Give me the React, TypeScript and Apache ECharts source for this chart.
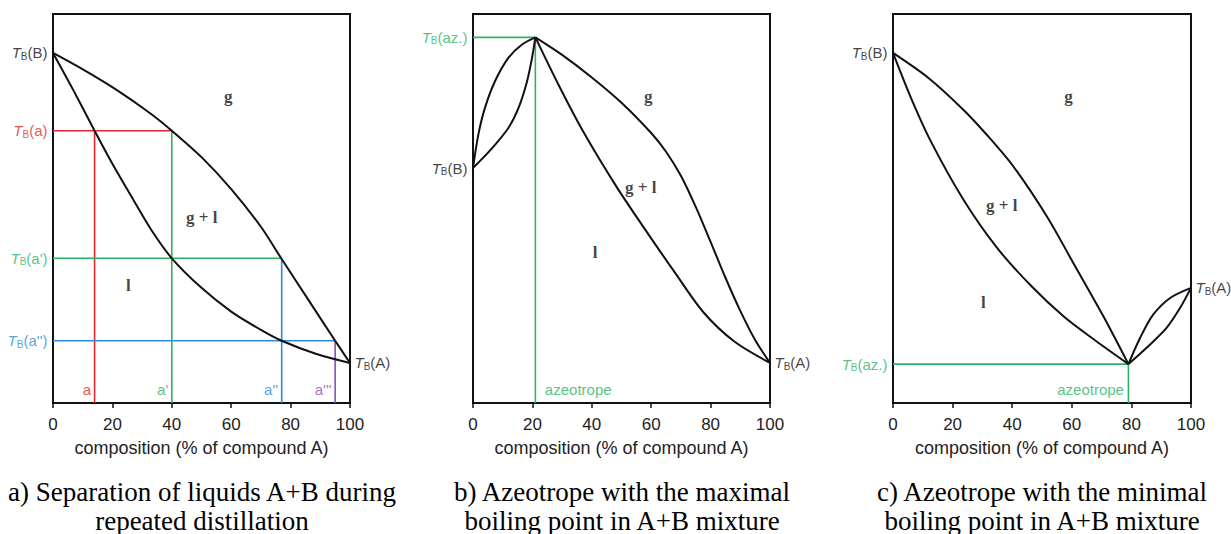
import React, { useEffect, useRef } from 'react';
import * as echarts from 'echarts';

type Pt = [number, number];

// ---------- shared texts ----------
const X_TICKS = [0, 20, 40, 60, 80, 100];
const AXIS_TITLE = 'composition (% of compound A)';
const CAPTIONS = [
  'a) Separation of liquids A+B during\nrepeated distillation',
  'b) Azeotrope with the maximal\nboiling point in A+B mixture',
  'c) Azeotrope with the minimal\nboiling point in A+B mixture',
];
const REGION_TEXT = ['g', 'g + l', 'l'];

// ---------- panel a ----------
const A_LIQUID: Pt[] = [[0, 90], [6.8, 80.5], [14, 70], [20, 61.5], [27, 52.3], [33, 44.6], [40, 37.2], [50, 29.6], [60, 23.5], [70, 18.8], [77, 16], [88.7, 12.6], [100, 10.3]];
const A_VAPOR: Pt[] = [[0, 90], [10.2, 85.7], [21.4, 80.5], [32.7, 74.5], [40, 70], [50, 63.2], [60, 55], [70, 45.3], [77, 37], [86, 26.5], [95, 16], [100, 10.3]];
const A_COMPOSITIONS = [14, 40, 77, 95]; // a, a', a'', a'''
const A_COMP_LABELS = ["a", "a'", "a''", "a'''"];
const A_TEMPS = [70, 37.2, 16]; // TB(a), TB(a'), TB(a'')
const A_TEMP_LABELS = ['(a)', "(a')", "(a'')"];
const A_TB_B = 90;
const A_TB_A = 10.3;
const A_REGIONS: Pt[] = [[59, 78.8], [50.1, 47.8], [25.4, 30.2]];

// ---------- panel b ----------
const B_AZEO: Pt = [21, 94];
const B_TB_B = 60.4;
const B_TB_A = 10.3;
const B_LENS_UPPER: Pt[] = [[0, 60.4], [1.8, 69], [4, 75.8], [7.4, 82.7], [11.9, 88.7], [16.4, 92.1], [21, 94]];
const B_LENS_LOWER: Pt[] = [[0, 60.4], [6.3, 65.4], [11.9, 70.7], [15.3, 75.8], [18.1, 82.4], [19.8, 88.4], [21, 94]];
const B_LIQUID: Pt[] = [[21, 94], [29, 81.5], [37.1, 69.8], [48.4, 55.5], [58.5, 44], [68, 33.5], [77.5, 23.4], [88, 15.8], [100, 10.3]];
const B_VAPOR: Pt[] = [[21, 94], [30, 89.5], [40, 83.7], [50, 77.2], [60, 69.4], [65, 64.6], [70, 58.4], [75, 50.4], [80, 41.4], [85, 32.2], [90, 23.7], [95, 16.2], [100, 10.3]];
const B_REGIONS: Pt[] = [[59, 78.8], [56.5, 55.5], [41.1, 38.8]];

// ---------- panel c ----------
const C_AZEO: Pt = [79, 10];
const C_TB_B = 90;
const C_TB_A = 29.6;
const C_LIQUID: Pt[] = [[0, 90], [6, 78.5], [12.4, 67.7], [23.6, 52.3], [35, 39.8], [46.5, 30], [57.2, 22.3], [68, 16], [79, 10]];
const C_VAPOR: Pt[] = [[0, 90], [12, 83.5], [23.6, 75.4], [32, 68.5], [40.4, 60.8], [51.6, 48], [60.5, 36], [70.6, 22.3], [79, 10]];
const C_LENS_UPPER: Pt[] = [[79, 10], [82.9, 16.7], [87.3, 22.7], [93, 27], [100, 29.6]];
const C_LENS_LOWER: Pt[] = [[79, 10], [86.2, 15], [91.8, 19.3], [96.3, 24.4], [100, 29.6]];
const C_REGIONS: Pt[] = [[58.9, 78.8], [36.5, 50.7], [30.3, 25.9]];

const BOTTOM_LABEL_Y = 3.4;

// ---------- styles ----------
const RED = '#e2272d';
const GREEN = '#2bb462';
const BLUE = '#2f8bd5';
const PURPLE = '#8d4dbd';
const BLACK = '#111';
const SANS = '"Liberation Sans", Arial, sans-serif';
const SERIF = '"Liberation Serif", "Times New Roman", serif';

const GRIDS = [
  { left: 53, top: 14, width: 297, height: 389 },
  { left: 473, top: 14, width: 297, height: 389 },
  { left: 893, top: 14, width: 298, height: 389 },
];
const CAPTION_X = [202, 622, 1042];

function tbLabel(suffix: string, color: string, position: string, distance = 5) {
  return {
    show: true,
    position,
    distance,
    formatter: `{t|T}{s|B}{n|${suffix}}`,
    rich: {
      t: { fontFamily: SANS, fontStyle: 'italic', fontSize: 15, color },
      s: { fontFamily: SANS, fontSize: 10, color, padding: [7, 0, 0, 0] },
      n: { fontFamily: SANS, fontSize: 15, color },
    },
  };
}

function textLabel(text: string, color: string, position: string, distance: number) {
  return {
    show: true,
    position,
    distance,
    formatter: text,
    color,
    fontFamily: SANS,
    fontSize: 15,
  };
}

function curve(g: number, data: Pt[]) {
  return {
    type: 'line',
    xAxisIndex: g,
    yAxisIndex: g,
    data,
    smooth: 0.3,
    symbol: 'none',
    clip: false,
    z: 5,
    lineStyle: { color: BLACK, width: 2 },
    silent: true,
  };
}

function seg(g: number, data: Pt[], color: string) {
  return {
    type: 'line',
    xAxisIndex: g,
    yAxisIndex: g,
    data,
    symbol: 'none',
    clip: false,
    z: 3,
    lineStyle: { color, width: 1.6 },
    silent: true,
  };
}

function labels(g: number, items: any[]) {
  return {
    type: 'scatter',
    xAxisIndex: g,
    yAxisIndex: g,
    symbol: 'circle',
    symbolSize: 1,
    itemStyle: { color: 'rgba(0,0,0,0)' },
    clip: false,
    z: 10,
    silent: true,
    data: items,
  };
}

function regionLabels(g: number, pts: Pt[]) {
  return labels(
    g,
    pts.map((p, i) => ({
      value: p,
      label: {
        show: true,
        position: 'inside',
        formatter: REGION_TEXT[i],
        fontFamily: SERIF,
        fontWeight: 'bold',
        fontSize: 17,
        color: BLACK,
      },
    }))
  );
}

function buildOption() {
  const series: any[] = [];
  const stepColors = [RED, GREEN, BLUE, PURPLE];

  // panel a: distillation steps
  A_COMPOSITIONS.forEach((x, i) => {
    const top = i === 0 ? A_TEMPS[0] : A_TEMPS[i - 1];
    series.push(seg(0, [[x, 0], [x, top]], stepColors[i]));
  });
  A_TEMPS.forEach((t, i) => {
    series.push(seg(0, [[0, t], [A_COMPOSITIONS[i + 1], t]], stepColors[i]));
  });
  series.push(curve(0, A_LIQUID), curve(0, A_VAPOR));
  series.push(
    labels(0, [
      { value: [0, A_TB_B], label: tbLabel('(B)', BLACK, 'left') },
      { value: [100, A_TB_A], label: tbLabel('(A)', BLACK, 'right', 4) },
      ...A_TEMPS.map((t, i) => ({ value: [0, t], label: tbLabel(A_TEMP_LABELS[i], stepColors[i], 'left') })),
      ...A_COMPOSITIONS.map((x, i) => ({ value: [x, BOTTOM_LABEL_Y], label: textLabel(A_COMP_LABELS[i], stepColors[i], 'left', 3) })),
    ])
  );
  series.push(regionLabels(0, A_REGIONS));

  // panel b
  series.push(seg(1, [[0, B_AZEO[1]], B_AZEO], GREEN));
  series.push(seg(1, [[B_AZEO[0], 0], B_AZEO], GREEN));
  series.push(curve(1, B_LENS_UPPER), curve(1, B_LENS_LOWER), curve(1, B_LIQUID), curve(1, B_VAPOR));
  series.push(
    labels(1, [
      { value: [0, B_AZEO[1]], label: tbLabel('(az.)', GREEN, 'left') },
      { value: [0, B_TB_B], label: tbLabel('(B)', BLACK, 'left') },
      { value: [100, B_TB_A], label: tbLabel('(A)', BLACK, 'right', 4) },
      { value: [B_AZEO[0], BOTTOM_LABEL_Y], label: textLabel('azeotrope', GREEN, 'right', 9) },
    ])
  );
  series.push(regionLabels(1, B_REGIONS));

  // panel c
  series.push(seg(2, [[0, C_AZEO[1]], C_AZEO], GREEN));
  series.push(seg(2, [[C_AZEO[0], 0], C_AZEO], GREEN));
  series.push(curve(2, C_LIQUID), curve(2, C_VAPOR), curve(2, C_LENS_UPPER), curve(2, C_LENS_LOWER));
  series.push(
    labels(2, [
      { value: [0, C_TB_B], label: tbLabel('(B)', BLACK, 'left') },
      { value: [100, C_TB_A], label: tbLabel('(A)', BLACK, 'right', 4) },
      { value: [0, C_AZEO[1]], label: tbLabel('(az.)', GREEN, 'left') },
      { value: [C_AZEO[0], BOTTOM_LABEL_Y], label: textLabel('azeotrope', GREEN, 'left', 4) },
    ])
  );
  series.push(regionLabels(2, C_REGIONS));

  return {
    animation: false,
    backgroundColor: '#fff',
    grid: GRIDS.map((g) => ({
      ...g,
      show: true,
      borderColor: BLACK,
      borderWidth: 2,
      backgroundColor: 'transparent',
      containLabel: false,
      outerBoundsMode: 'none',
    })),
    xAxis: GRIDS.map((_, i) => ({
      type: 'value',
      gridIndex: i,
      min: X_TICKS[0],
      max: X_TICKS[X_TICKS.length - 1],
      interval: X_TICKS[1] - X_TICKS[0],
      name: AXIS_TITLE,
      nameLocation: 'middle',
      nameGap: 36,
      nameTextStyle: { fontFamily: SANS, fontSize: 18, color: '#222' },
      axisLine: { show: true, onZero: false, lineStyle: { color: BLACK, width: 2 } },
      axisTick: { show: true, inside: false, length: 5, lineStyle: { color: BLACK, width: 1.5 } },
      axisLabel: { show: true, fontFamily: SANS, fontSize: 17, color: '#222', margin: 13, showMinLabel: true, showMaxLabel: true },
      splitLine: { show: false },
    })),
    yAxis: GRIDS.map((_, i) => ({
      type: 'value',
      gridIndex: i,
      min: 0,
      max: 100,
      axisLine: { show: true, onZero: false, lineStyle: { color: BLACK, width: 2 } },
      axisTick: { show: false },
      axisLabel: { show: false },
      splitLine: { show: false },
    })),
    graphic: CAPTIONS.map((c, i) => ({
      type: 'text',
      x: CAPTION_X[i],
      y: 477,
      silent: true,
      style: {
        text: c,
        align: 'center',
        verticalAlign: 'top',
        fontFamily: SERIF,
        fontSize: 27,
        lineHeight: 29,
        fill: '#000',
      },
    })),
    series,
  };
}

export default function App() {
  const ref = useRef<HTMLDivElement>(null);
  useEffect(() => {
    document.body.style.margin = '0';
    if (!ref.current) return;
    const chart = echarts.init(ref.current, null, { renderer: 'svg' });
    chart.setOption(buildOption() as any);
    return () => chart.dispose();
  }, []);
  return <div ref={ref} style={{ width: 1231, height: 534 }} />;
}
